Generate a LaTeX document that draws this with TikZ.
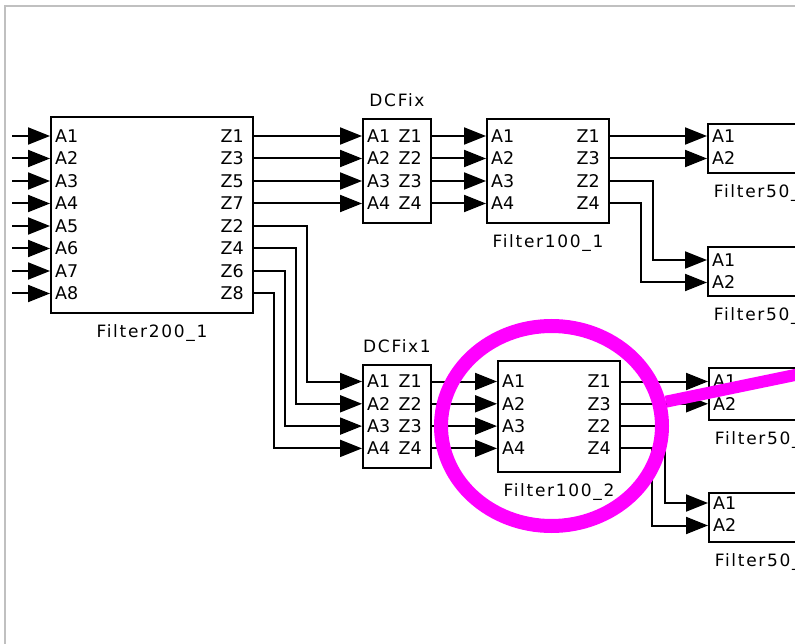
\documentclass[tikz,border=0pt]{standalone}
\usepackage{fontspec}
\setmainfont{DejaVu Sans}
\newfontfamily\titlefont[LetterSpace=10]{DejaVu Sans}
\usepackage{xcolor}
\usetikzlibrary{shapes.geometric, arrows.meta, positioning}
\definecolor{framegray}{RGB}{192, 192, 192}
\definecolor{hilite}{RGB}{255, 0, 255}

\begin{document}
\begin{tikzpicture}[x=1pt, y=-1pt, font=\fontsize{17.5}{19}\selectfont]
    \tikzstyle{blk}    = [rectangle, draw, line width=2pt, inner sep=0pt, anchor=north west]
    \tikzstyle{pinin}  = [anchor=west, inner xsep=5pt, inner ysep=1pt]
    \tikzstyle{pinout} = [anchor=east, inner xsep=8pt, inner ysep=1pt]
    \tikzstyle{ttl}    = [font=\titlefont\fontsize{17}{19}\selectfont, inner sep=2pt]
    \tikzstyle{arr}    = [-{Triangle[length=22pt, width=17pt]}, line width=2pt]

    \useasboundingbox (0,0) rectangle (795,644);
    \draw[framegray, line width=2pt] (5,644) -- (5,6) -- (795,6);

    %% ── Filter200_1 (left) ─────────────────────────────────────────────────
    \node[blk, minimum width=202pt, minimum height=196pt] (f200) at (50,116) {};
    \node[ttl, below=8pt of f200] {Filter200\_1};
    \foreach \i in {1,...,8} {
      \node[pinin] (f200a\i) at (50,{113.5+22.5*\i}) {A\i};
      \coordinate (src\i) at (12,{113.5+22.5*\i});
      \draw[arr] (src\i) -- (f200a\i.west);
    }
    \foreach \i/\z in {1/1,2/3,3/5,4/7,5/2,6/4,7/6,8/8}
      \node[pinout] (f200z\z) at (252,{113.5+22.5*\i}) {Z\z};

    %% ── DCFix and Filter100_1 (top row) ────────────────────────────────────
    \node[blk, minimum width=68pt, minimum height=104pt] (dcfa) at (362,118) {};
    \node[ttl, above=9pt of dcfa] {DCFix};
    \node[blk, minimum width=122pt, minimum height=104pt] (f100a) at (486,118) {};
    \node[ttl, below=8pt of f100a] {Filter100\_1};
    \foreach \i in {1,...,4} {
      \node[pinin]  (dcfaa\i) at (362,{113.5+22.5*\i}) {A\i};
      \node[pinout] (dcfaz\i) at (430,{113.5+22.5*\i}) {Z\i};
      \node[pinin]  (f100aa\i) at (486,{113.5+22.5*\i}) {A\i};
    }
    \foreach \i/\z in {1/1,2/3,3/2,4/4}
      \node[pinout] (f100az\z) at (608,{113.5+22.5*\i}) {Z\z};

    %% ── DCFix1 and Filter100_2 (bottom row) ────────────────────────────────
    \node[blk, minimum width=68pt, minimum height=103pt] (dcfb) at (362,364) {};
    \node[ttl, above=9pt of dcfb] {DCFix1};
    \node[blk, minimum width=122pt, minimum height=111pt] (f100b) at (497,360) {};
    \node[ttl, below=8pt of f100b] {Filter100\_2};
    \foreach \i in {1,...,4} {
      \node[pinin]  (dcfba\i) at (362,{359.2+22.3*\i}) {A\i};
      \node[pinout] (dcfbz\i) at (430,{359.2+22.3*\i}) {Z\i};
      \node[pinin]  (f100ba\i) at (497,{359.2+22.3*\i}) {A\i};
    }
    \foreach \i/\z in {1/1,2/3,3/2,4/4}
      \node[pinout] (f100bz\z) at (619,{359.2+22.3*\i}) {Z\z};

    %% ── Filter50 blocks (right, cut by the frame) ──────────────────────────
    \node[blk, minimum width=122pt, minimum height=49pt] (f50a) at (707,123) {};
    \node[ttl, below=8pt of f50a, xshift=-6pt] {Filter50\_1};
    \node[blk, minimum width=122pt, minimum height=49pt] (f50b) at (707,246) {};
    \node[ttl, below=8pt of f50b, xshift=-6pt] {Filter50\_2};
    \node[blk, minimum width=122pt, minimum height=52pt] (f50c) at (708,367) {};
    \node[ttl, below=8pt of f50c, xshift=-6pt] {Filter50\_3};
    \node[blk, minimum width=122pt, minimum height=49pt] (f50d) at (708,492) {};
    \node[ttl, below=8pt of f50d, xshift=-6pt] {Filter50\_4};
    \foreach \i in {1,2} {
      \node[pinin] (f50aa\i) at (707,{113.5+22.5*\i}) {A\i};
      \node[pinin] (f50ba\i) at (707,{237.5+22.5*\i}) {A\i};
      \node[pinin] (f50ca\i) at (708,{359.2+22.3*\i}) {A\i};
      \node[pinin] (f50da\i) at (708,{480.5+22.5*\i}) {A\i};
    }

    %% ── Wires ──────────────────────────────────────────────────────────────
    \foreach \i/\z in {1/1,2/3,3/5,4/7}
      \draw[arr] (f200z\z.east) -- (dcfaa\i.west);
    \foreach \i/\z/\dx in {1/2/55,2/4/44,3/6/33,4/8/22}
      \draw[arr] (f200z\z.east) -- ++(\dx,0) |- (dcfba\i.west);
    \foreach \i in {1,...,4} {
      \draw[arr] (dcfaz\i.east) -- (f100aa\i.west);
      \draw[arr] (dcfbz\i.east) -- (f100ba\i.west);
    }
    \draw[arr] (f100az1.east) -- (f50aa1.west);
    \draw[arr] (f100az3.east) -- (f50aa2.west);
    \draw[arr] (f100az2.east) -- ++(45,0) |- (f50ba1.west);
    \draw[arr] (f100az4.east) -- ++(33,0) |- (f50ba2.west);
    \draw[arr] (f100bz1.east) -- (f50ca1.west);
    \draw[arr] (f100bz3.east) -- (f50ca2.west);
    \draw[arr] (f100bz2.east) -- ++(46,0) |- (f50da1.west);
    \draw[arr] (f100bz4.east) -- ++(33,0) |- (f50da2.west);

    %% ── Highlight round Filter100_2 ────────────────────────────────────────
    \node[ellipse, draw=hilite, line width=14pt, inner sep=0pt,
          minimum width=221pt, minimum height=200pt] (ring) at (551.5,426) {};
    \draw[hilite, line width=12pt] (ring.12) -- ++(150,-31);
\end{tikzpicture}
\end{document}
